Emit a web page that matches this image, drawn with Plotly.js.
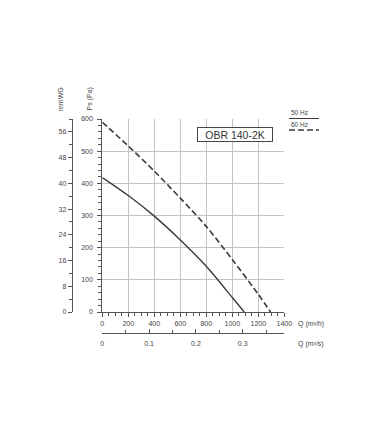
<!DOCTYPE html>
<html><head><meta charset="utf-8">
<script src="https://cdn.plot.ly/plotly-3.0.1.min.js"></script>
<style>html,body{margin:0;padding:0;background:#fff}</style>
</head><body><div id="chart" style="width:380px;height:434px"></div>
<script>
// ---- data ----
const flow50 = [0, 200, 400, 600, 800, 1000, 1092];
const pressure50 = [418, 362, 298, 224, 142, 45, 0];
const flow60 = [0, 200, 400, 600, 800, 1000, 1200, 1294];
const pressure60 = [590, 516, 438, 354, 266, 163, 55, 0];
const flowTicks = [0, 200, 400, 600, 800, 1000, 1200, 1400];
const paTicks = [0, 100, 200, 300, 400, 500, 600];
const mmwgTicks = [0, 8, 16, 24, 32, 40, 48, 56];
const m3sTicks = [0, 0.1, 0.2, 0.3];
const legendLabels = ['50 Hz', '60 Hz'];
const modelName = 'OBR 140-2K';

const W = 380, H = 434;
const px = v => v / W, py = v => 1 - v / H;
const FONT = 'Liberation Sans, Arial, sans-serif';
const INK = '#3a3a3a';
const tf = {size: 7, color: '#444', family: FONT};

const traces = [
  {x: flow50, y: pressure50, mode: 'lines', line: {color: INK, width: 1.4, shape: 'spline', smoothing: 0.8}, showlegend: false, hoverinfo: 'skip'},
  {x: flow60, y: pressure60, mode: 'lines', line: {color: INK, width: 1.6, dash: '6px,3px', shape: 'spline', smoothing: 0.8}, showlegend: false, hoverinfo: 'skip'},
  {x: [null], y: [null], xaxis: 'x2', yaxis: 'y', mode: 'none', showlegend: false, hoverinfo: 'skip'},
  {x: [null], y: [null], xaxis: 'x', yaxis: 'y2', mode: 'none', showlegend: false, hoverinfo: 'skip'}
];

const axBase = {showline: true, linecolor: '#555', linewidth: 1, zeroline: false, tickcolor: '#555', tickfont: tf, fixedrange: true};

const layout = {
  width: W, height: H,
  margin: {l: 0, r: 0, t: 0, b: 0},
  paper_bgcolor: '#fff', plot_bgcolor: '#fff',
  showlegend: false,
  xaxis: Object.assign({}, axBase, {
    domain: [px(102.3), px(284.3)], anchor: 'y', range: [0, 1400],
    tickmode: 'array', tickvals: flowTicks, ticks: 'outside', ticklen: 4, ticklabelstandoff: 1,
    showgrid: true, gridcolor: '#c4c4c4', gridwidth: 1,
    minor: {dtick: 50, tick0: 0, ticks: 'outside', ticklen: 3, tickcolor: '#555', showgrid: false}
  }),
  yaxis: Object.assign({}, axBase, {
    domain: [py(312), py(119)], anchor: 'x', range: [0, 600],
    tickmode: 'array', tickvals: paTicks, ticks: 'outside', ticklen: 4, ticklabelstandoff: 3,
    showgrid: true, gridcolor: '#c4c4c4', gridwidth: 1,
    minor: {dtick: 20, tick0: 0, ticks: 'outside', ticklen: 3, tickcolor: '#555', showgrid: false}
  }),
  yaxis2: Object.assign({}, axBase, {
    overlaying: 'y', anchor: 'free', position: px(71.7), side: 'left', range: [0, 60],
    tickmode: 'array', tickvals: mmwgTicks, ticks: 'outside', ticklen: 4, showgrid: false,
    minor: {dtick: 4, tick0: 0, ticks: 'outside', ticklen: 3, tickcolor: '#555', showgrid: false}
  }),
  xaxis2: Object.assign({}, axBase, {
    overlaying: 'x', anchor: 'free', position: py(333), side: 'bottom', range: [0, 1400 / 3600],
    tickmode: 'array', tickvals: m3sTicks, ticks: 'inside', ticklen: 4, showgrid: false, ticklabelstandoff: 4,
    minor: {dtick: 0.05, tick0: 0, ticks: 'inside', ticklen: 3, tickcolor: '#555', showgrid: false}
  }),
  annotations: [
    {xref: 'paper', yref: 'paper', x: px(235), y: py(134), xanchor: 'center', yanchor: 'middle', text: modelName, showarrow: false,
     font: {size: 10.5, color: '#333', family: FONT}, bordercolor: '#444', borderwidth: 1, borderpad: 1,
     width: 72, height: 11, bgcolor: '#fff'},
    {xref: 'paper', yref: 'paper', x: px(61), y: py(113), xanchor: 'center', yanchor: 'bottom', text: 'mmWG', textangle: -90, showarrow: false,
     font: {size: 7, color: '#444', family: FONT}},
    {xref: 'paper', yref: 'paper', x: px(90), y: py(113), xanchor: 'center', yanchor: 'bottom', text: 'Ps (Pa)', textangle: -90, showarrow: false,
     font: {size: 7, color: '#444', family: FONT}},
    {xref: 'paper', yref: 'paper', x: px(296), y: py(324), xanchor: 'left', yanchor: 'middle', text: 'Q (m³/h)', showarrow: false,
     font: {size: 7, color: '#444', family: FONT}},
    {xref: 'paper', yref: 'paper', x: px(296), y: py(344), xanchor: 'left', yanchor: 'middle', text: 'Q (m³/s)', showarrow: false,
     font: {size: 7, color: '#444', family: FONT}},
    {xref: 'paper', yref: 'paper', x: px(289), y: py(113), xanchor: 'left', yanchor: 'middle', text: legendLabels[0], showarrow: false,
     font: {size: 6.5, color: '#444', family: FONT}},
    {xref: 'paper', yref: 'paper', x: px(289), y: py(124), xanchor: 'left', yanchor: 'middle', text: legendLabels[1], showarrow: false,
     font: {size: 6.5, color: '#444', family: FONT}}
  ],
  shapes: [
    {type: 'line', xref: 'paper', yref: 'paper', x0: px(289), x1: px(319), y0: py(118.5), y1: py(118.5),
     line: {color: INK, width: 1}},
    {type: 'line', xref: 'paper', yref: 'paper', x0: px(289), x1: px(319), y0: py(130), y1: py(130),
     line: {color: INK, width: 1.4, dash: '6px,3px'}}
  ]
};

Plotly.newPlot('chart', traces, layout, {staticPlot: true, displayModeBar: false});
</script></body></html>
